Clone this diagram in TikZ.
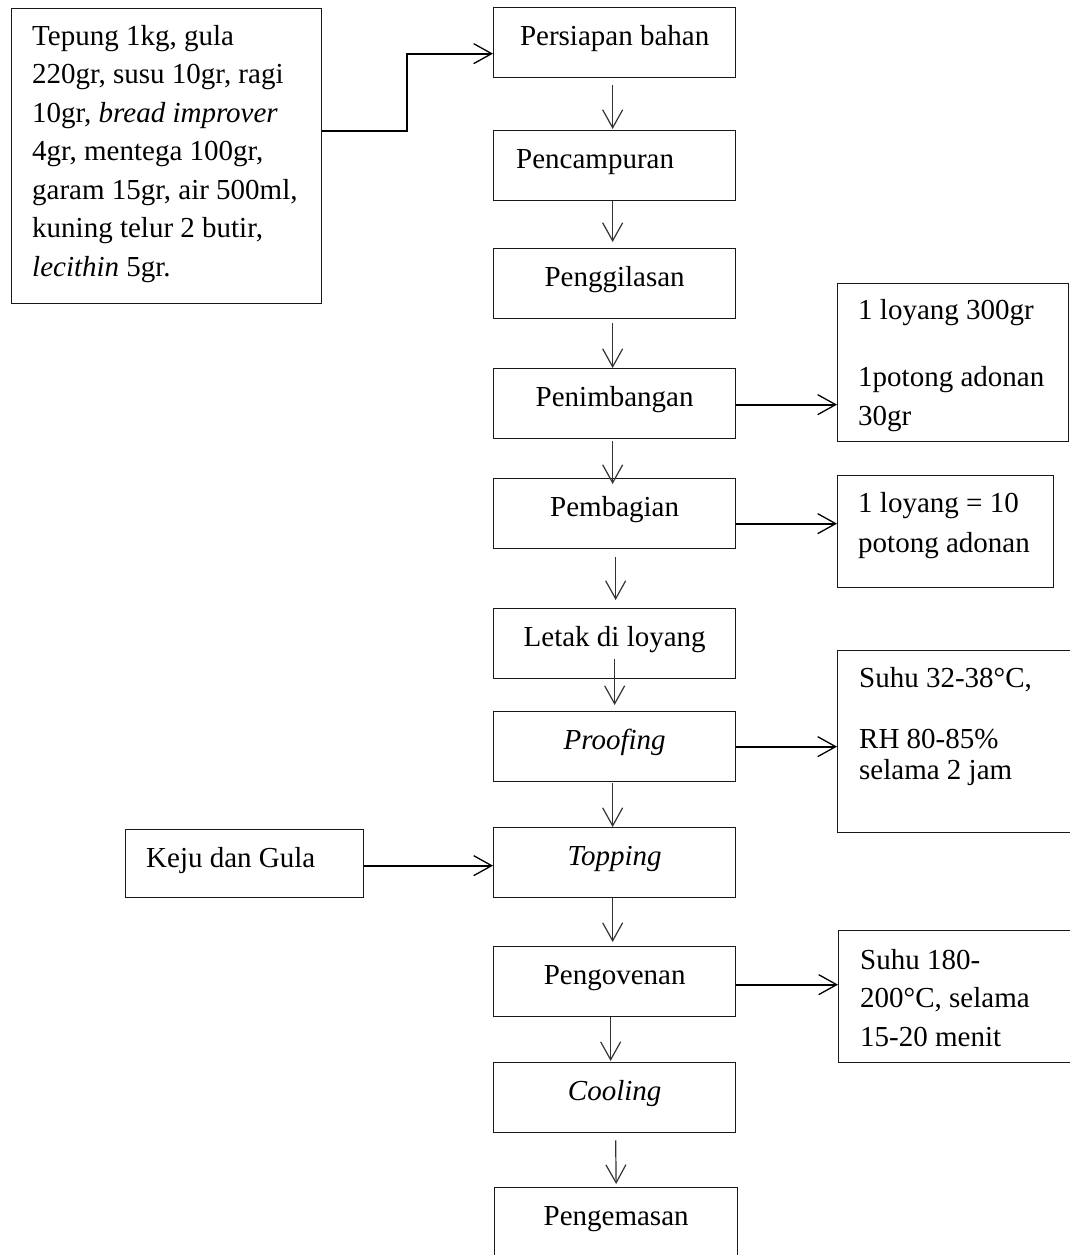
\documentclass[tikz,border=0pt]{standalone}
\usepackage{fontspec}
\setmainfont{Liberation Serif}
\usetikzlibrary{arrows.meta}
\tikzset{
  mbox/.style={draw=black!90, line width=1.3pt, inner sep=0pt, anchor=north west,
    minimum width=242pt, text height=38pt, text depth=32pt},
  rbox/.style={draw=black!90, line width=1.3pt, inner sep=0pt, anchor=north west},
  txt/.style={inner sep=0pt, anchor=base west, align=left},
  varr/.style={draw=black!80, line width=1.2pt, -{Straight Barb[length=18pt,width=20pt,line width=1.2pt]}},
  harr/.style={draw=black, line width=1.8pt, -{Straight Barb[length=18pt,width=20pt,line width=1.3pt]}},
}
\begin{document}
\begin{tikzpicture}[x=1pt, y=-1pt, every node/.append style={font=\fontsize{29pt}{38.5pt}\selectfont}]
\useasboundingbox (0,0) rectangle (1070,1255);
\fill[white] (0,0) rectangle (1070,1255);

% left ingredients box (text anchored at the baseline of its last line)
\node[rbox, minimum width=310pt, minimum height=295pt] (ing) at (11,8) {};
\node[txt] (ingt) at (32,276) {Tepung 1kg, gula\\220gr, susu 10gr, ragi\\10gr, \textit{bread improver}\\4gr, mentega 100gr,\\garam 15gr, air 500ml,\\kuning telur 2 butir,\\\textit{lecithin} 5gr.};

% main column
\node[mbox] (pb)  at (493,7)   {Persiapan bahan};
\node[mbox] (pc)  at (493,130) {Pencampuran\hspace*{39pt}};
\node[mbox] (pg)  at (493,248) {Penggilasan};
\node[mbox] (pn)  at (493,368) {Penimbangan};
\node[mbox] (pbg) at (493,478) {Pembagian};
\node[mbox] (lt)  at (493,608) {Letak di loyang};
\node[mbox] (pf)  at (493,711) {\textit{Proofing}};
\node[mbox] (tp)  at (493,827) {\textit{Topping}};
\node[mbox] (pov) at (493,946) {Pengovenan};
\node[mbox] (cl)  at (493,1062) {\textit{Cooling}};
\node[mbox, minimum width=243pt, text depth=45pt] (pm) at (494,1187) {Pengemasan};

% right info boxes
\node[rbox, minimum width=231pt, minimum height=158pt] (rb1) at (837,283) {};
\node[txt] (rb1t) at (858,425) {1 loyang 300gr\\[28.5pt]1potong adonan\\30gr};
\node[rbox, minimum width=216pt, minimum height=112pt] (rb2) at (837,475) {};
\node[txt] (rb2t) at (858,552) {1 loyang = 10\\[1.5pt]potong adonan};
\node[rbox, minimum width=240pt, minimum height=182pt] (rb3) at (837,650) {};
\node[txt] (rb3t) at (859,779) {Suhu 32-38°C,\\[22.5pt]RH 80-85\%\\[-7.5pt]selama 2 jam};
\node[rbox, minimum width=240pt, minimum height=132pt] (rb4) at (838,930) {};
\node[txt] (rb4t) at (860,1046) {Suhu 180-\\200°C, selama\\15-20 menit};

% left topping box
\node[rbox, minimum width=238pt, minimum height=68pt] (kj) at (125,829) {};
\node[txt] (kjt) at (146,867) {Keju dan Gula};

% ingredients -> persiapan
\draw[harr] ([yshift=25.5pt]ing.east) -- ([yshift=25.5pt]ing.east -| 407,0) |- ([yshift=-11pt]pb.west);

% vertical flow
\draw[varr] ([xshift=-2pt,yshift=-7pt]pb.south) -- ([xshift=-2pt,yshift=1pt]pc.north);
\draw[varr] ([xshift=-2pt]pc.south) -- ([xshift=-2pt,yshift=6pt]pg.north);
\draw[varr] ([xshift=-2pt,yshift=-4pt]pg.south) -- ([xshift=-2pt]pn.north);
\draw[varr] ([xshift=-2pt,yshift=-2pt]pn.south) -- ([xshift=-2pt,yshift=-6pt]pbg.north);
\draw[varr] ([xshift=1pt,yshift=-8pt]pbg.south) -- ([xshift=1pt,yshift=8pt]lt.north);
\draw[varr] ([yshift=20pt]lt.south) -- ([yshift=6pt]pf.north);
\draw[varr] ([xshift=-2pt,yshift=-1pt]pf.south) -- ([xshift=-2pt]tp.north);
\draw[varr] ([xshift=-2pt]tp.south) -- ([xshift=-2pt,yshift=4pt]pov.north);
\draw[varr] ([xshift=-4pt]pov.south) -- ([xshift=-4pt,yshift=1pt]cl.north);
\draw[varr] ([xshift=1pt,yshift=-7pt]cl.south) -- ([xshift=0pt,yshift=3pt]pm.north);

% side arrows
\draw[harr] ([yshift=-1pt]pn.east) -- ([yshift=-1pt]pn.east -| rb1.west);
\draw[harr] ([yshift=-10pt]pbg.east) -- ([yshift=-10pt]pbg.east -| rb2.west);
\draw[harr] (pf.east) -- (pf.east -| rb3.west);
\draw[harr] ([yshift=-2pt]kj.east) -- ([yshift=-2pt]kj.east -| tp.west);
\draw[harr] ([yshift=-3pt]pov.east) -- ([yshift=-3pt]pov.east -| rb4.west);
\end{tikzpicture}
\end{document}
